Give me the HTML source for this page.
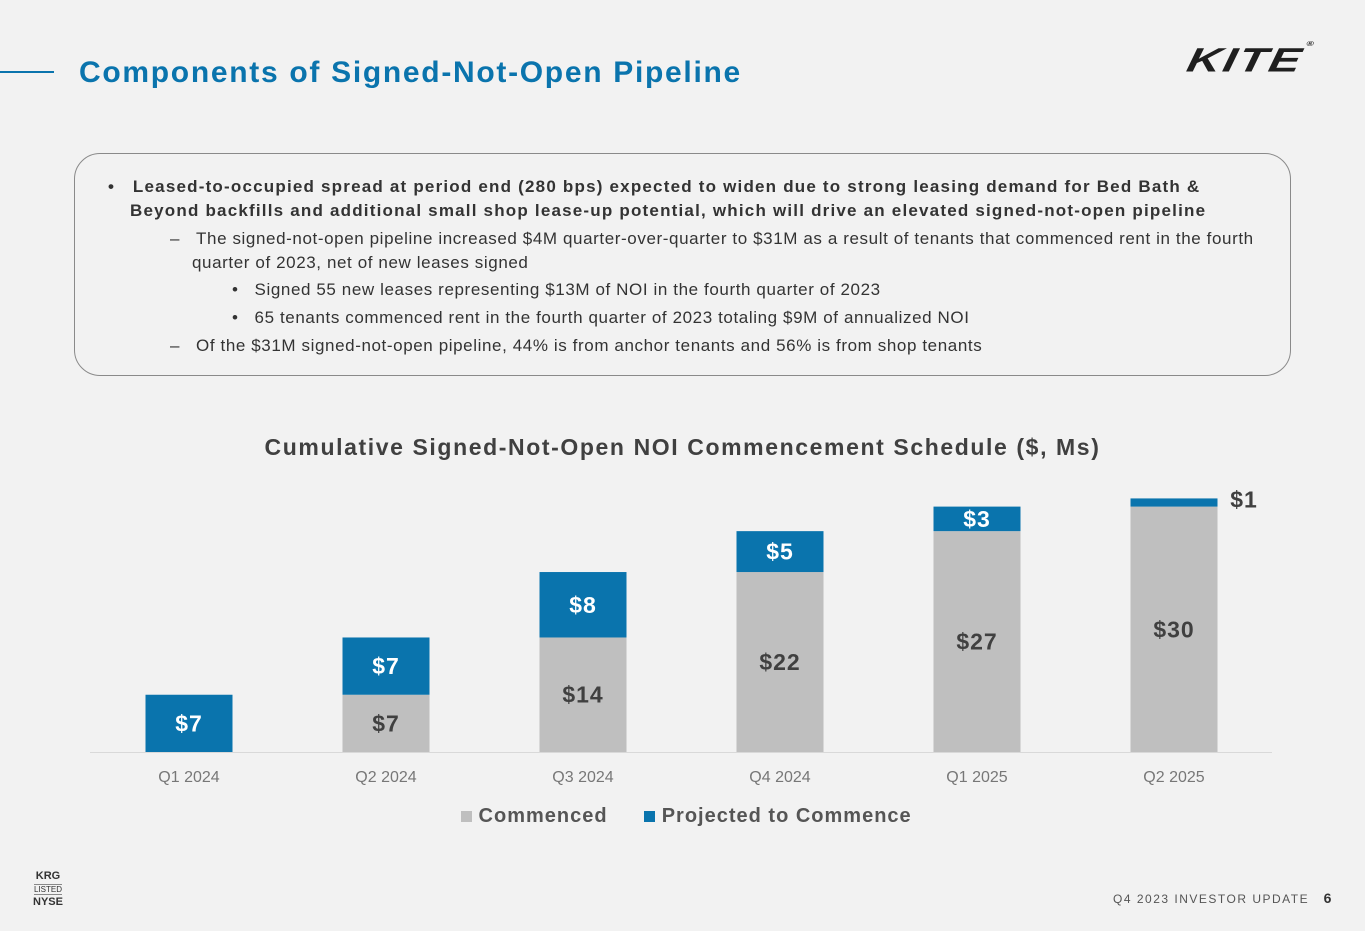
<!DOCTYPE html>
<html><head><meta charset="utf-8"><style>
body{margin:0;width:1365px;height:931px;background:#f2f2f2;font-family:"Liberation Sans",sans-serif;position:relative;overflow:hidden}
.abs{position:absolute}
.box{left:74px;top:153px;width:1217px;height:223px;border:1.5px solid #8a8a8a;border-radius:26px;box-sizing:border-box}
.t{position:absolute;font-size:17px;color:#333;line-height:24px;letter-spacing:0.6px;white-space:nowrap}
.b{font-weight:bold;letter-spacing:1.2px}
</style></head><body>
<div class="abs" style="left:0;top:71px;width:54px;height:2px;background:#0a74ad"></div>
<div class="abs" style="left:79px;top:56px;font-size:30px;font-weight:bold;color:#0a74ad;letter-spacing:1.7px">Components of Signed-Not-Open Pipeline</div>
<div class="abs" style="left:1192px;top:40px;font-size:47px;font-weight:900;font-style:italic;color:#1f1f1f;letter-spacing:2px;transform:skewX(-12deg) scaleY(0.72);transform-origin:left top">KITE<span style="font-size:10px;vertical-align:top">®</span></div>
<div class="abs box"></div>
<div class="t b" style="left:108px;top:175px">•&nbsp;&nbsp;&nbsp;Leased-to-occupied spread at period end (280 bps) expected to widen due to strong leasing demand for Bed Bath &amp;<br><span style="padding-left:22px">Beyond backfills and additional small shop lease-up potential, which will drive an elevated signed-not-open pipeline</span></div>
<div class="t" style="left:170px;top:227px">–&nbsp;&nbsp;&nbsp;The signed-not-open pipeline increased $4M quarter-over-quarter to $31M as a result of tenants that commenced rent in the fourth<br><span style="padding-left:22px">quarter of 2023, net of new leases signed</span></div>
<div class="t" style="left:232px;top:278px">•&nbsp;&nbsp;&nbsp;Signed 55 new leases representing $13M of NOI in the fourth quarter of 2023</div>
<div class="t" style="left:232px;top:306px">•&nbsp;&nbsp;&nbsp;65 tenants commenced rent in the fourth quarter of 2023 totaling $9M of annualized NOI</div>
<div class="t" style="left:170px;top:334px">–&nbsp;&nbsp;&nbsp;Of the $31M signed-not-open pipeline, 44% is from anchor tenants and 56% is from shop tenants</div>
<div class="abs" style="left:0;width:1365px;text-align:center;top:434px;font-size:23px;font-weight:bold;color:#404040;letter-spacing:1.6px">Cumulative Signed-Not-Open NOI Commencement Schedule ($, Ms)</div>
<svg class="abs" style="left:0;top:0" width="1365" height="931" id="ch"></svg>
<div class="abs" style="left:461px;top:805px;font-size:20px;font-weight:bold;color:#555;letter-spacing:1px;white-space:nowrap">
<span><span style="display:inline-block;width:11px;height:11px;background:#bfbfbf"></span> Commenced</span>
<span style="margin-left:30px"><span style="display:inline-block;width:11px;height:11px;background:#0a74ad"></span> Projected to Commence</span></div>
<div class="abs" style="left:33px;top:870px;font-size:11px;font-weight:bold;color:#333;text-align:center;line-height:13px">KRG<br><span style="font-weight:normal;font-size:8px;border-top:1px solid #888;border-bottom:1px solid #888">LISTED</span><br>NYSE</div>
<div class="abs" style="left:1113px;top:890px;font-size:12px;color:#555;letter-spacing:1.5px">Q4 2023 INVESTOR UPDATE&nbsp;&nbsp;&nbsp;<b style="color:#333;font-size:14px">6</b></div>
<script>
const categories=["Q1 2024","Q2 2024","Q3 2024","Q4 2024","Q1 2025","Q2 2025"];
const commenced=[0,7,14,22,27,30];
const projected=[7,7,8,5,3,1];
const svg=document.getElementById('ch');const NS='http://www.w3.org/2000/svg';
const base=752,k=8.18,x0=189,dx=197,w=87;
const y=v=>base-v*k, x=i=>x0+i*dx;
function mk(t,a){const e=document.createElementNS(NS,t);for(const n in a)e.setAttribute(n,a[n]);svg.appendChild(e);return e;}
const ax=mk('line',{x1:90,x2:1272,y1:base+0.5,y2:base+0.5,stroke:'#d9d9d9'});


categories.forEach((c,i)=>{
  const c0=commenced[i],p=projected[i];
  if(c0>0){const r=mk('rect',{x:x(i)-w/2,y:y(c0),width:w,height:c0*k,fill:'#bfbfbf'});
    
    
    const t=mk('text',{x:x(i),y:(y(c0)+base)/2+8,'text-anchor':'middle','font-size':23,'font-weight':'bold',fill:'#404040','letter-spacing':1});t.textContent='$'+c0;
    
    }
  const r2=mk('rect',{x:x(i)-w/2,y:y(c0+p),width:w,height:p*k,fill:'#0a74ad'});
  
  
  const small=p*k<20;
  const t2=mk('text',{x:small?x(i)+70:x(i),y:small?y(c0+p)+9:(y(c0+p)+y(c0))/2+8,'text-anchor':'middle','font-size':23,'font-weight':'bold',fill:small?'#404040':'#fff','letter-spacing':1});t2.textContent='$'+p;
  
  
  const tl=mk('text',{x:x(i),y:782,'text-anchor':'middle','font-size':16,fill:'#777'});tl.textContent=c;
  
  
});
</script>
</body></html>
